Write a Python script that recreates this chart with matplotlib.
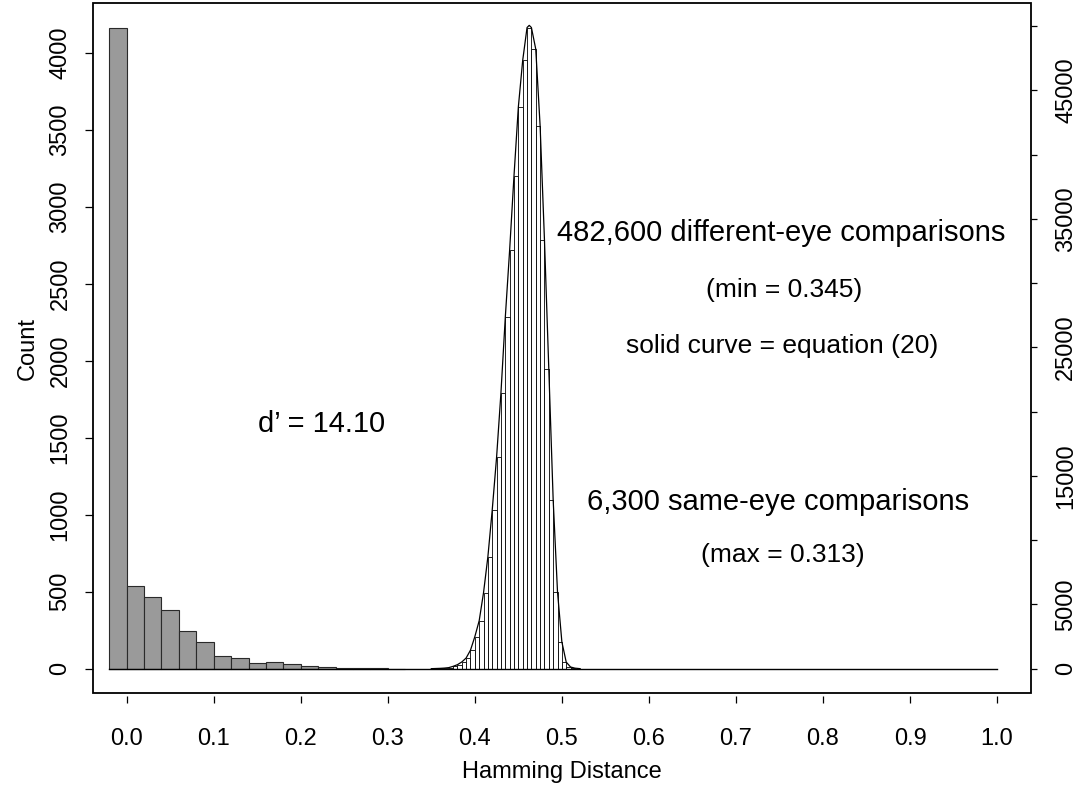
import numpy as np
import matplotlib.pyplot as plt
from matplotlib.patches import Rectangle

plt.rcParams['font.family'] = ['Liberation Sans', 'DejaVu Sans']

# same-eye comparisons: bin left edges (bin width 0.02) and counts, left axis
same_left = [-0.02, 0.00, 0.02, 0.04, 0.06, 0.08, 0.10, 0.12, 0.14, 0.16,
             0.18, 0.20, 0.22, 0.24, 0.26, 0.28, 0.30]
same_counts = [4160, 537, 464, 379, 245, 175, 81, 68, 35, 42,
               29, 16, 11, 4, 3, 2, 1]

# different-eye comparisons: bin left edges (bin width 0.005) and counts, right axis
diff_left = [0.345, 0.350, 0.355, 0.360, 0.365, 0.370, 0.375, 0.380, 0.385, 0.390,
             0.395, 0.400, 0.405, 0.410, 0.415, 0.420, 0.425, 0.430, 0.435, 0.440,
             0.445, 0.450, 0.455, 0.460, 0.465, 0.470, 0.475, 0.480, 0.485, 0.490,
             0.495, 0.500, 0.505, 0.510]
diff_counts = [5, 10, 15, 25, 45, 80, 180, 310, 520, 830,
               1440, 2490, 3730, 5910, 8710, 12360, 16450, 21460, 27330, 32580,
               38340, 43700, 47330, 49880, 48200, 42240, 33360, 23290, 13140, 5960,
               2080, 510, 130, 20]

# solid curve (equation 20)
curve_x = [0.350, 0.360, 0.365, 0.370, 0.375, 0.380, 0.385, 0.390, 0.395, 0.400,
           0.405, 0.410, 0.415, 0.420, 0.425, 0.430, 0.435, 0.440, 0.445, 0.450,
           0.455, 0.460, 0.4625, 0.465, 0.470, 0.475, 0.480, 0.485, 0.490, 0.495,
           0.500, 0.505, 0.510, 0.515, 0.521]
curve_y = [0, 25, 45, 80, 180, 310, 520, 830, 1440, 2490,
           3730, 5910, 8710, 12360, 16450, 21460, 27330, 32580, 38340, 43700,
           47330, 49880, 50050, 49880, 48200, 42240, 33360, 23290, 13140, 5960,
           2080, 510, 130, 40, 0]

x_ticks = [0.0, 0.1, 0.2, 0.3, 0.4, 0.5, 0.6, 0.7, 0.8, 0.9, 1.0]
left_ticks = [0, 500, 1000, 1500, 2000, 2500, 3000, 3500, 4000]
right_ticks = [0, 5000, 10000, 15000, 20000, 25000, 30000, 35000, 40000, 45000, 50000]
right_labels = ['0', '5000', '', '15000', '', '25000', '', '35000', '', '45000', '']

fig = plt.figure(figsize=(10.8, 7.87), dpi=100)
ax = fig.add_axes([93 / 1080, 1 - 693 / 787, 938 / 1080, 690 / 787])
ax2 = ax.twinx()

ax.bar(same_left, same_counts, width=0.02, align='edge',
       color='#9a9a9a', edgecolor='#2a2a2a', linewidth=0.8)

ax2.bar(diff_left, diff_counts, width=0.005, align='edge',
        color='white', edgecolor='black', linewidth=0.6)
ax2.plot(curve_x, curve_y, color='black', linewidth=0.9)
ax2.plot([-0.02, 1.0], [0, 0], color='black', linewidth=1.0)

ax.set_xlim(-0.0387, 1.039)
ax.set_ylim(-158, 4323)
ax2.set_ylim(-158 * 11.98, 4323 * 11.98)

for a in (ax, ax2):
    for s in a.spines.values():
        s.set_visible(False)
ax.add_patch(Rectangle((0, 0), 1, 1, transform=ax.transAxes, fill=False,
                       edgecolor='black', linewidth=1.3, clip_on=False, zorder=5))

ax.spines['bottom'].set_position(('outward', 2.5))
ax.set_xticks(x_ticks)
ax.set_xticklabels(['%.1f' % v for v in x_ticks])
ax.tick_params(axis='x', length=5, width=0.9, labelsize=17, pad=18)

ax.set_yticks(left_ticks)
ax.set_yticklabels([str(v) for v in left_ticks], rotation=90, va='center')
ax.tick_params(axis='y', length=5.5, width=0.9, labelsize=17, pad=10)

ax2.set_yticks(right_ticks)
ax2.set_yticklabels(right_labels, rotation=90, va='center')
ax2.tick_params(axis='y', length=4.5, width=0.9, labelsize=17, pad=13)

ax.set_xlabel('Hamming Distance', fontsize=17)
ax.xaxis.set_label_coords(0.5, -0.098)
ax.set_ylabel('Count', fontsize=17)
ax.yaxis.set_label_coords(-0.058, 0.5)

def ax_pos(px, py):
    return (px - 93) / 938, (693 - py) / 690

notes = [
    (322, 424, 'd\u2019 = 14.10', 21),
    (781, 233, '482,600 different-eye comparisons', 21),
    (784, 290, '(min = 0.345)', 19),
    (782, 346, 'solid curve = equation (20)', 19),
    (778, 502, '6,300 same-eye comparisons', 21),
    (783, 555, '(max = 0.313)', 19),
]
for px, py, txt, fs in notes:
    x, y = ax_pos(px, py)
    ax2.text(x, y, txt, transform=ax.transAxes, ha='center', va='center', fontsize=fs)

fig.savefig('out.png', dpi=100)
